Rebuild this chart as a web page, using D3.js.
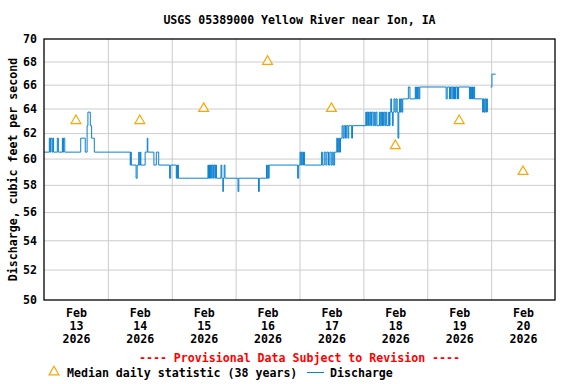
<!DOCTYPE html>
<html>
<head>
<meta charset="utf-8">
<script src="https://cdn.jsdelivr.net/npm/d3@7"></script>
<style>
  body { margin: 0; background: #fff; }
  text { font-family: "DejaVu Sans Mono", monospace; font-weight: bold; font-size: 11.6px; }
</style>
</head>
<body>
<svg id="chart"></svg>
<script>
// median daily statistic, one per day at noon
const medianDays = ["2026-02-13", "2026-02-14", "2026-02-15", "2026-02-16", "2026-02-17", "2026-02-18", "2026-02-19", "2026-02-20"];
const medianCfs = [63, 63, 64, 68, 64, 61, 63, 59];

// discharge: [hours after Feb 13 00:00, cfs], value holds until next step
const flowSteps = [
  [0, 60.5], [2.0, 61.6], [2.3, 60.5], [2.5, 61.6], [3.0, 60.5], [3.3, 61.6], [3.6, 60.5],
  [5.0, 61.6], [5.4, 60.5], [6.9, 61.6], [7.1, 60.5], [7.3, 61.6], [7.8, 60.5],
  [13.8, 61.6], [15.5, 60.5], [16.2, 62.6], [16.5, 63.7], [17.4, 62.6], [17.9, 61.6], [18.9, 60.5],
  [32.4, 59.5], [32.6, 60.5], [32.8, 59.5], [34.6, 58.5], [35.0, 59.5], [35.6, 60.5], [35.8, 59.5],
  [36.2, 60.5], [36.4, 59.5], [38.0, 60.5], [38.8, 61.6], [39.0, 60.5], [41.3, 59.5], [42.2, 60.5],
  [43.1, 59.5], [47.2, 58.5], [47.6, 59.5], [49.7, 58.5], [49.9, 59.5], [50.1, 58.5], [50.3, 59.5], [50.5, 58.5],
  [61.6, 59.5], [61.8, 58.5], [62.2, 59.5], [62.4, 58.5], [62.6, 59.5], [63.0, 58.5], [63.2, 59.5],
  [63.6, 58.5], [63.8, 59.5], [64.2, 58.5], [64.4, 59.5], [64.8, 58.5], [66.5, 59.5], [66.8, 58.5],
  [67.2, 57.5], [67.4, 58.5], [67.7, 59.5], [68.0, 58.5], [72.9, 57.5], [73.2, 58.5], [80.6, 57.5],
  [80.9, 58.5], [83.6, 59.5], [83.8, 58.5], [84.1, 59.5], [84.3, 58.5], [84.6, 59.5],
  [95.3, 58.5], [95.7, 59.5], [96.2, 60.5], [96.5, 59.5], [96.8, 60.5], [97.2, 59.5], [97.5, 60.5], [97.9, 59.5],
  [104.3, 60.5], [104.7, 59.5], [105.3, 60.5], [105.9, 59.5], [106.3, 60.5], [106.9, 59.5], [107.4, 60.5],
  [107.9, 59.5], [108.3, 60.5], [108.7, 59.5], [109.2, 60.5], [110.0, 61.6], [110.3, 60.5], [110.7, 61.6],
  [111.0, 60.5], [111.4, 61.6], [112.0, 62.6], [112.4, 61.6], [112.8, 62.6], [113.3, 61.6], [113.6, 62.6],
  [114.2, 61.6], [114.5, 62.6], [115.6, 61.6], [115.9, 62.6],
  [120.9, 63.7], [121.2, 62.6], [121.4, 63.7], [121.7, 62.6], [121.9, 63.7], [122.4, 62.6], [122.6, 63.7],
  [123.0, 62.6], [123.2, 63.7], [123.7, 62.6], [124.1, 63.7], [124.4, 62.6], [124.7, 63.7], [125.1, 62.6],
  [126.0, 63.7], [126.3, 62.6], [126.6, 63.7], [126.9, 62.6], [127.2, 63.7], [127.5, 62.6], [127.8, 63.7],
  [128.2, 62.6], [128.5, 63.7], [128.8, 62.6], [129.5, 63.7], [129.8, 62.6], [130.0, 63.7], [130.3, 64.8],
  [130.6, 63.7], [130.9, 62.6], [131.2, 63.7], [131.5, 64.8], [131.9, 63.7], [132.3, 64.8], [132.7, 63.7],
  [133.0, 61.6], [133.3, 63.7], [133.6, 64.8], [133.9, 63.7], [134.2, 64.8], [134.5, 63.7], [134.8, 64.8],
  [136.9, 65.8], [137.5, 64.8], [139.5, 65.8], [139.7, 64.8], [140.0, 65.8], [140.3, 64.8], [140.6, 65.8],
  [140.9, 64.8], [141.2, 65.8],
  [151.1, 64.8], [151.5, 65.8], [152.4, 64.8], [152.6, 65.8], [152.8, 64.8], [153.0, 65.8], [153.6, 64.8],
  [153.8, 65.8], [154.0, 64.8], [154.2, 65.8], [154.4, 64.8], [154.6, 65.8], [155.2, 64.8], [155.4, 65.8],
  [155.6, 64.8], [155.8, 65.8], [159.9, 64.8], [160.1, 65.8], [160.3, 64.8], [160.5, 65.8], [160.7, 64.8],
  [161.0, 65.8], [161.3, 64.8], [161.5, 65.8], [161.8, 64.8], [164.8, 63.7], [165.1, 64.8], [165.4, 63.7],
  [165.7, 64.8], [166.0, 63.7], [166.3, 64.8], [166.6, 63.7], [166.8, null],
  [167.8, 65.8], [168.3, 66.9], [169.7, 66.9]
];

const yTicks = [50, 52, 54, 56, 58, 60, 62, 64, 66, 68, 70];
const monthLabel = "Feb";
const yearLabel = "2026";

let width = 576, height = 384;
var margin = {top: 39, right: 21, bottom: 84, left: 44},
    plotW = width - margin.left - margin.right,
    plotH = height - margin.top - margin.bottom;

let svg = d3.select("#chart")
    .attr("width", width)
    .attr("height", height);

const parseDay = d3.timeParse("%Y-%m-%d");
const start = parseDay("2026-02-13");
const end = parseDay("2026-02-21");
const atHour = h => d3.timeMinute.offset(start, Math.round(h * 60));

const x = d3.scaleTime()
    .domain([start, end])
    .range([margin.left, margin.left + plotW]);

const y = d3.scaleLog()
    .domain([50, 70])
    .range([margin.top + plotH, margin.top]);

// grid lines
svg.append("g")
    .attr("transform", "translate(" + margin.left + ",0)")
    .call(d3.axisLeft(y).tickValues(yTicks.slice(1, -1)).tickSize(-plotW).tickFormat(""))
    .call(g => g.select(".domain").remove())
    .call(g => g.selectAll("line").attr("stroke", "#cccccc"));

svg.append("g")
    .attr("transform", "translate(0," + (margin.top + plotH) + ")")
    .call(d3.axisBottom(x).tickValues(d3.timeDay.range(d3.timeDay.offset(start, 1), end)).tickSize(plotH).tickFormat(""))
    .call(g => g.select(".domain").remove())
    .call(g => g.selectAll("line").attr("transform", "translate(0," + (-plotH) + ")").attr("stroke", "#cccccc"));

// y tick labels
svg.append("g")
    .attr("transform", "translate(" + margin.left + ",0)")
    .call(d3.axisLeft(y).tickValues(yTicks).tickSize(0).tickPadding(7).tickFormat(d3.format("d")))
    .call(g => g.select(".domain").remove())
    .selectAll("text").attr("fill", "#000").style("font-size", "11.6px");

// x tick labels, three lines at noon
const noons = medianDays.map(d => d3.timeHour.offset(parseDay(d), 12));
svg.append("g")
    .attr("transform", "translate(0," + (margin.top + plotH) + ")")
    .call(d3.axisBottom(x).tickValues(noons).tickSize(0).tickPadding(9))
    .call(g => g.select(".domain").remove())
    .selectAll("text")
    .attr("fill", "#000")
    .style("font-size", "11.6px")
    .each(function(d) {
        const t = d3.select(this).text(null);
        [monthLabel, d3.timeFormat("%e")(d).trim(), yearLabel].forEach((s, i) => {
            t.append("tspan").attr("x", 0).attr("dy", i ? "1.13em" : "0.71em").text(s);
        });
    });

// discharge line
const line = d3.line()
    .defined(d => d[1] != null)
    .x(d => x(atHour(d[0])))
    .y(d => y(d[1]))
    .curve(d3.curveStepAfter);

svg.append("path")
    .datum(flowSteps)
    .attr("fill", "none")
    .attr("stroke", "#0a80d0")
    .attr("stroke-width", 1)
    .attr("d", line);

// median triangles
const tri = d3.symbol().type(d3.symbolTriangle).size(42);
svg.append("g")
    .selectAll("path")
    .data(medianCfs)
    .enter()
    .append("path")
    .attr("d", tri)
    .attr("transform", (v, i) => "translate(" + x(noons[i]) + "," + y(v) + ")")
    .attr("fill", "#fff")
    .attr("stroke", "#ffa500")
    .attr("stroke-width", 1.2);

// frame
svg.append("rect")
    .attr("x", margin.left)
    .attr("y", margin.top)
    .attr("width", plotW)
    .attr("height", plotH)
    .attr("fill", "none")
    .attr("stroke", "#000")
    .attr("stroke-width", 1.3);

// title and axis title
svg.append("text")
    .attr("x", margin.left + plotW / 2)
    .attr("y", 20.5)
    .attr("text-anchor", "middle")
    .attr("dominant-baseline", "middle")
    .text("USGS 05389000 Yellow River near Ion, IA");

svg.append("text")
    .attr("transform", "translate(13," + (margin.top + plotH / 2) + ") rotate(-90)")
    .attr("text-anchor", "middle")
    .attr("dominant-baseline", "middle")
    .text("Discharge, cubic feet per second");

svg.append("text")
    .attr("x", margin.left + plotW / 2)
    .attr("y", 358.5)
    .attr("text-anchor", "middle")
    .attr("dominant-baseline", "middle")
    .attr("fill", "#ff0000")
    .text("---- Provisional Data Subject to Revision ----");

// legend
let legend = svg.append("g").attr("transform", "translate(0,373)");
legend.append("path")
    .attr("d", tri)
    .attr("transform", "translate(54,-1)")
    .attr("fill", "#fff")
    .attr("stroke", "#ffa500")
    .attr("stroke-width", 1.2);
legend.append("text")
    .attr("x", 67)
    .attr("dominant-baseline", "middle")
    .text("Median daily statistic (38 years)");
legend.append("line")
    .attr("x1", 307).attr("x2", 324)
    .attr("y1", -0.5).attr("y2", -0.5)
    .attr("stroke", "#0a80d0")
    .attr("stroke-width", 1);
legend.append("text")
    .attr("x", 330)
    .attr("dominant-baseline", "middle")
    .text("Discharge");
</script>
</body>
</html>
